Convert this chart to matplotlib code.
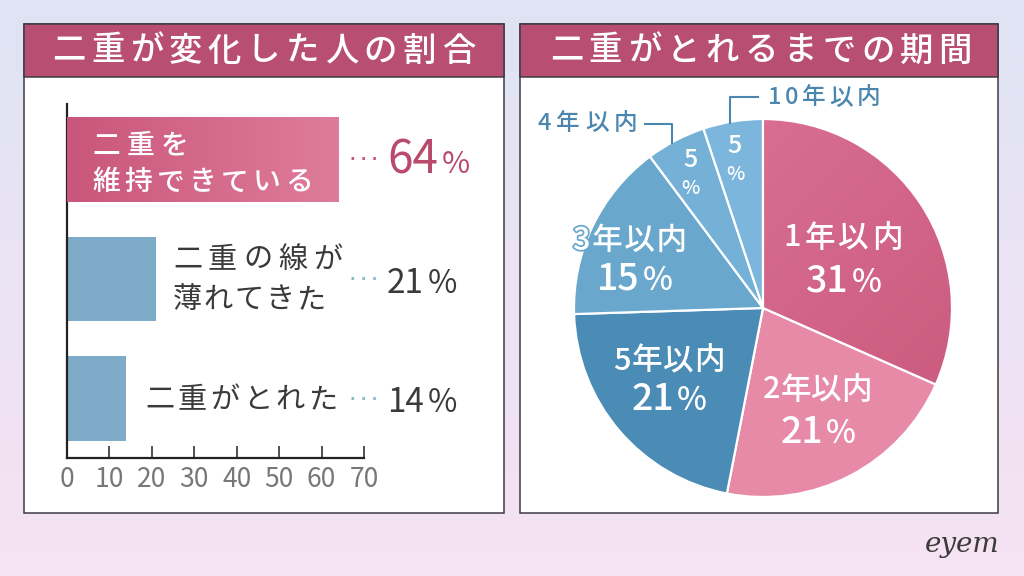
import matplotlib
matplotlib.use("Agg")
import matplotlib.pyplot as plt
import numpy as np
from matplotlib.patches import Rectangle
from matplotlib.colors import LinearSegmentedColormap
import matplotlib.patheffects as pe

JP = ['Noto Sans CJK JP', 'DejaVu Sans']
plt.rcParams['font.family'] = JP

# ---------------- data ----------------
title_left = "二重が変化した人の割合"
title_right = "二重がとれるまでの期間"

bar_labels = ["二重を\n維持できている", "二重の線が\n薄れてきた", "二重がとれた"]
bar_values = [64, 21, 14]
x_ticks = [0, 10, 20, 30, 40, 50, 60, 70]

pie_labels = ["1年以内", "2年以内", "5年以内", "3年以内", "4年以内", "10年以内"]
pie_values = [31, 21, 21, 15, 5, 5]

# ---------------- styles / layout ----------------
W, H = 1024, 576
PINK_DARK = "#b84f72"
BAR_BLUE = "#7eabc7"
TXT_DARK = "#3a3a3a"
LABEL_BLUE = "#4a86ae"
pie_colors = ["#d2668a", "#e68aa8", "#4a8cb6", "#69a7cd", "#75b0d6", "#7db6dc"]

fig = plt.figure(figsize=(W / 100, H / 100), dpi=100)

# background axes
bg = fig.add_axes([0, 0, 1, 1], zorder=0)
bg.set_xlim(0, W); bg.set_ylim(H, 0); bg.axis('off')
grad = np.linspace(0, 1, 256)[:, None]
bg_cmap = LinearSegmentedColormap.from_list("bg", ["#dfe4f4", "#ebe3f4", "#f6e2f2"])
bg.imshow(grad, cmap=bg_cmap, extent=(0, W, H, 0), aspect='auto', zorder=0)

for (x0, x1) in [(24, 504), (520, 998)]:
    bg.add_patch(Rectangle((x0, 24), x1 - x0, 513 - 24, facecolor='white',
                           edgecolor='#3c3c44', lw=1.1, zorder=1))
    bg.add_patch(Rectangle((x0, 24), x1 - x0, 77 - 24, facecolor=PINK_DARK,
                           edgecolor='#3c3c44', lw=1.1, zorder=2))

# overlay axes for text
ov = fig.add_axes([0, 0, 1, 1], zorder=5)
ov.set_xlim(0, W); ov.set_ylim(H, 0); ov.axis('off')
ov.patch.set_alpha(0)

renderer = fig.canvas.get_renderer()


def fit_text(s, x0, x1, y, size, color, weight='normal', va='center', effects=None):
    objs = [ov.text(0, y, ch, fontsize=size, color=color, family=JP,
                    weight=weight, ha='left', va=va) for ch in s]
    ws = [o.get_window_extent(renderer).width for o in objs]
    n = len(s)
    track = (x1 - x0 - sum(ws)) / (n - 1) if n > 1 else 0
    x = x0
    for o, w in zip(objs, ws):
        o.set_x(x)
        if effects:
            o.set_path_effects(effects)
        x += w + track


def num_pct(x, base, num, size_n, size_p, color, ha='left', gap=3, weight='normal'):
    t1 = ov.text(0, base, str(num), fontsize=size_n, color=color, family=JP,
                 ha='left', va='baseline', weight=weight)
    t2 = ov.text(0, base, "%", fontsize=size_p, color=color, family=JP,
                 ha='left', va='baseline', weight=weight)
    w1 = t1.get_window_extent(renderer).width
    w2 = t2.get_window_extent(renderer).width
    total = w1 + gap + w2
    x0 = x - total / 2 if ha == 'center' else x
    t1.set_x(x0)
    t2.set_x(x0 + w1 + gap)


# titles
fit_text(title_left, 52, 475, 51, 24, 'white', weight='medium')
fit_text(title_right, 550, 972, 51, 24, 'white', weight='medium')

# ---------------- bar chart ----------------
ax_l, ax_r, ax_t, ax_b = 67, 364, 104, 458
bax = fig.add_axes([ax_l / W, 1 - ax_b / H, (ax_r - ax_l) / W, (ax_b - ax_t) / H], zorder=2)
bax.patch.set_alpha(0)
ypos = np.arange(len(bar_values))
bar_cols = ["#d06484", BAR_BLUE, BAR_BLUE]
bars = bax.barh(ypos, bar_values, height=0.71, color=bar_cols, zorder=2)
bax.set_xlim(0, 70)
bax.set_ylim(2.498, -0.464)
# gradient on first bar
p = bars[0]
bb = p.get_bbox()
gcm = LinearSegmentedColormap.from_list("pb", ["#c9567b", "#df7c9b"])
im = bax.imshow(np.linspace(0, 1, 256)[None, :], cmap=gcm, aspect='auto',
                extent=(bb.x0, bb.x1, bb.y1, bb.y0), zorder=3)
im.set_clip_path(p)
bax.set_xlim(0, 70)
bax.set_ylim(2.498, -0.464)

for s in ['top', 'right']:
    bax.spines[s].set_visible(False)
for s in ['left', 'bottom']:
    bax.spines[s].set_color('#222222')
    bax.spines[s].set_linewidth(1.6)
bax.set_yticks([])
bax.set_xticks(x_ticks)
bax.set_xticklabels([str(t) for t in x_ticks])
bax.tick_params(axis='x', direction='in', length=9, width=1.1, color='#222222',
                labelsize=19, labelcolor='#777777', pad=6)

# bar label text (layout positions: x0, x1, y for each line)
bar_text_layout = [
    [(92, 188, 145), (92, 313, 182)],
    [(173, 342, 260), (173, 325, 300)],
    [(145, 337, 400)],
]
bar_text_colors = ['white', TXT_DARK, TXT_DARK]
bar_text_sizes = [20, 21, 21]
bar_text_weights = ['medium', 'normal', 'normal']
for lab, lay, col, sz, wt in zip(bar_labels, bar_text_layout, bar_text_colors,
                                 bar_text_sizes, bar_text_weights):
    for line, (x0, x1, y) in zip(lab.split("\n"), lay):
        fit_text(line, x0, x1, y, sz, col, weight=wt)

# value labels
val_base = [173, 293, 412]
dot_cols = ["#c8587c", "#8fb8cc", "#8fb8cc"]
val_cols = ["#b84a6c", TXT_DARK, TXT_DARK]
val_sizes = [(33, 22), (24, 23), (24, 23)]
for v, b, dc, vc, (sn, sp) in zip(bar_values, val_base, dot_cols, val_cols, val_sizes):
    ov.text(364, b - 13, "· · ·", fontsize=11, color=dc, family='DejaVu Sans',
            weight='bold', ha='center', va='center')
    num_pct(387, b, v, sn, sp, vc, gap=4, weight='normal')

# ---------------- pie chart ----------------
cx, cy, R = 763, 308, 189
pax = fig.add_axes([(cx - R) / W, 1 - (cy + R) / H, 2 * R / W, 2 * R / H], zorder=2)
wedges, _ = pax.pie(pie_values, colors=pie_colors, startangle=90, counterclock=False,
                    wedgeprops=dict(edgecolor='white', linewidth=1.6))
pax.set_xlim(-1, 1); pax.set_ylim(-1, 1)
pax.set_aspect('equal')
pax.axis('off')
wcm = LinearSegmentedColormap.from_list("pw", ["#de7499", "#c8587c"])
gx, gy = np.meshgrid(np.linspace(0, 1, 128), np.linspace(0, 1, 128))
wim = pax.imshow((gx + gy) / 2, cmap=wcm, extent=(-1, 1, -1, 1), origin='upper', zorder=1.5)
wim.set_clip_path(wedges[0])
wedges[0].set_zorder(2)
wedges[0].set_facecolor('none')
pax.set_xlim(-1, 1); pax.set_ylim(-1, 1)

# in-pie labels: (name x0, x1, y) and (pct center x, baseline)
pie_name_layout = [(783, 903, 238), (763, 872, 390), (613, 725, 361), (573, 687, 241)]
pie_pct_layout = [(844, 292), (818, 443), (669, 410), (635, 290)]
outline = [None, None, None,
           [pe.withStroke(linewidth=2.5, foreground=pie_colors[3])]]
for lab, val, (x0, x1, y), (px, pb), ef in zip(pie_labels[:4], pie_values[:4],
                                               pie_name_layout, pie_pct_layout, outline):
    fit_text(lab, x0, x1, y, 22, 'white', weight='medium', effects=ef)
    num_pct(px, pb, val, 27, 23, 'white', ha='center', gap=3, weight='medium')

# thin slices: vertical "5" / "%"
thin_layout = [(690, 160, 189), (735, 146, 174)]
for val, (x, y1, y2) in zip(pie_values[4:], thin_layout):
    ov.text(x, y1, str(val), fontsize=18, color='white', ha='center', va='center', weight='medium')
    ov.text(x, y2, "%", fontsize=14, color='white', ha='center', va='center', weight='medium')

# outside labels with leader lines
fit_text(pie_labels[4], 538, 637, 123, 17, LABEL_BLUE, weight='medium')
ov.plot([645, 672, 672], [124, 124, 143], color=LABEL_BLUE, lw=1.5)
fit_text(pie_labels[5], 768, 880, 98, 17, LABEL_BLUE, weight='medium')
ov.plot([758, 730, 730], [97, 97, 123], color=LABEL_BLUE, lw=1.5)

# watermark
ov.text(962, 545, "eyem", fontsize=20, color='#3a3a3a', family='DejaVu Serif',
        style='italic', ha='center', va='center')

fig.savefig("out.png", dpi=100)
